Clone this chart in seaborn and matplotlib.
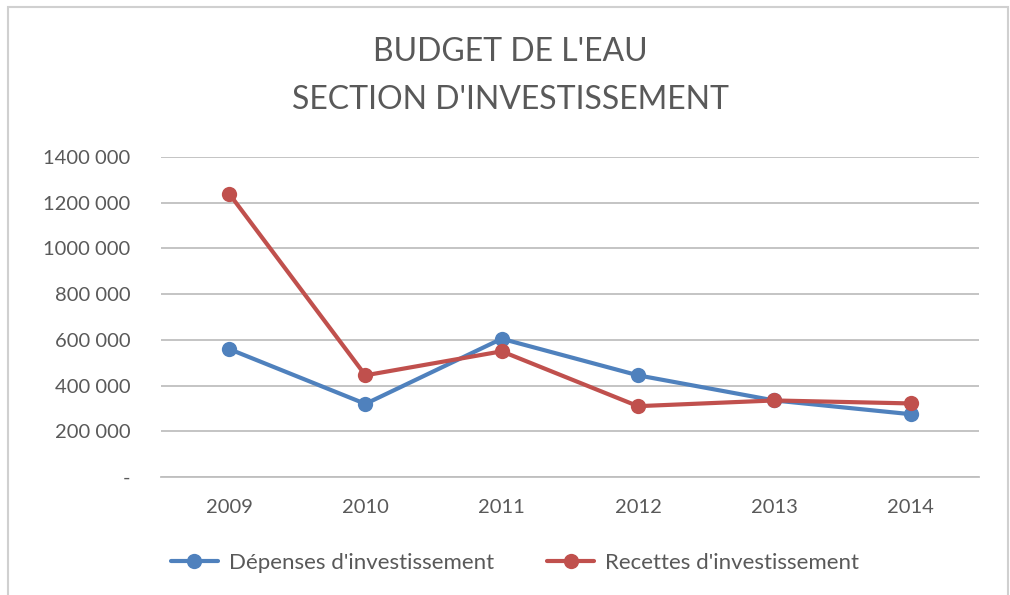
import pandas as pd
import numpy as np
import matplotlib.pyplot as plt
import matplotlib.ticker as mticker
from matplotlib.patches import Rectangle
import seaborn as sns

# values
years = ["2009", "2010", "2011", "2012", "2013", "2014"]
depenses = [560000, 320000, 605000, 445000, 335000, 275000]
recettes = [1240000, 445000, 550000, 310000, 335000, 322000]
series_names = ["Dépenses d'investissement", "Recettes d'investissement"]

df = pd.DataFrame({
    "annee": years * 2,
    "montant": depenses + recettes,
    "serie": [series_names[0]] * len(years) + [series_names[1]] * len(years),
})

sns.set_theme(style="white")
plt.rcParams['font.family'] = ['Lato', 'DejaVu Sans']
grey = "#595959"

fig = plt.figure(figsize=(10.1, 5.95), dpi=100)
ax = fig.add_axes([0.1594, 0.1983, 0.8096, 0.5377])

sns.lineplot(data=df, x="annee", y="montant", hue="serie",
             palette=["#4F81BD", "#C0504D"], marker="o", markersize=11,
             markeredgewidth=0, linewidth=3.0, sort=False, ax=ax, legend=True)

ax.set_ylim(0, 1400000)
ax.set_xlim(-0.5, len(years) - 0.5)
ax.yaxis.set_major_locator(mticker.MultipleLocator(200000))

def fmt(v, pos):
    if v == 0:
        return "-"
    return f"{int(v // 1000)} {int(v % 1000):03d}"

ax.yaxis.set_major_formatter(mticker.FuncFormatter(fmt))
ax.grid(axis="y", color="#BFBFBF", linewidth=1.3)
ax.set_axisbelow(True)
for s in ["top", "right", "left"]:
    ax.spines[s].set_visible(False)
ax.spines["bottom"].set_color("#BFBFBF")
ax.spines["bottom"].set_linewidth(1.3)
ax.tick_params(axis="both", length=0, labelsize=14.5, labelcolor=grey)
ax.tick_params(axis="y", pad=22)
ax.tick_params(axis="x", pad=16)
ax.set_xlabel("")
ax.set_ylabel("")

handles, labels = ax.get_legend_handles_labels()
ax.get_legend().remove()
fig.legend(handles, labels, loc="center", bbox_to_anchor=(0.51, 0.054), ncol=2,
           frameon=False, fontsize=16, handlelength=2.1, columnspacing=2.4,
           handletextpad=0.5, labelcolor=grey)

fig.text(0.505, 0.912, "BUDGET DE L'EAU", ha="center", va="center",
         fontsize=23, color=grey)
fig.text(0.505, 0.832, "SECTION D'INVESTISSEMENT", ha="center", va="center",
         fontsize=23, color=grey)

# chart frame like the screenshot
fig.patches.append(Rectangle((0.008, -0.01), 0.99, 0.998, transform=fig.transFigure,
                             fill=False, edgecolor="#D0D0D0", linewidth=1.5))

fig.savefig("out.png", dpi=100)
